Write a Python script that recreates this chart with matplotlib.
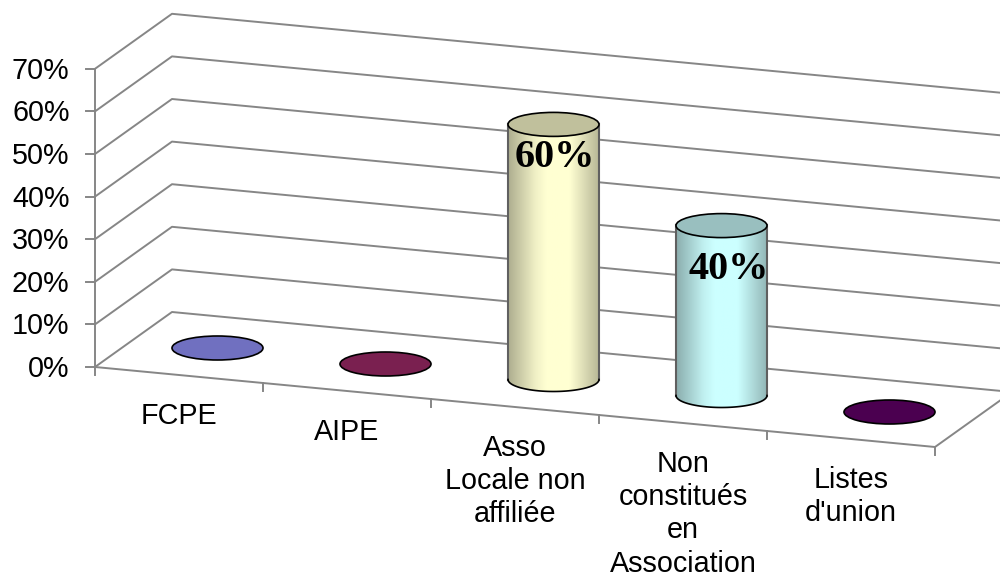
import numpy as np
import matplotlib
matplotlib.use('Agg')
import matplotlib.pyplot as plt
from matplotlib.patches import Ellipse, PathPatch
from matplotlib.path import Path

# Values
categories = ['FCPE', 'AIPE', 'Asso\nLocale non\naffiliée', 'Non\nconstitués\nen\nAssociation', 'Listes\nd\'union']
values = [0, 0, 60, 40, 0]
value_labels = ['', '', '60%', '40%', '']
y_ticks = [0, 10, 20, 30, 40, 50, 60, 70]

body_colors = ['#7070c0', '#7a2050', '#ffffd2', '#ccffff', '#4b0050']
top_colors = ['#7070c0', '#7a2050', '#c0c09c', '#99bfbf', '#4b0050']

plt.rcParams['font.family'] = ['Liberation Sans', 'DejaVu Sans']

fig = plt.figure(figsize=(10, 5.76), dpi=100)
ax = fig.add_axes([0, 0, 1, 1])
ax.axis('off')

# Oblique projection of the 3D box into pixel space
origin = np.array([95.0, 367.0])
width_vec = np.array([840.0, 80.0])
depth_vec = np.array([77.0, -55.0])
px_per_unit = 4.26
n = len(categories)


def project(u, d, v):
    p = origin + u * width_vec + d * depth_vec
    return p[0], p[1] - v * px_per_unit


grid_col = '#868686'

# walls and floor
for v in y_ticks:
    pts = [project(0, 0, v), project(0, 1, v), project(1, 1, v)]
    ax.plot(*zip(*pts), color=grid_col, lw=1.4, zorder=1)
pts = [project(0, 0, 0), project(1, 0, 0), project(1, 1, 0)]
ax.plot(*zip(*pts), color=grid_col, lw=1.4, zorder=1)

# value axis and ticks
x0, y0 = project(0, 0, 0)
ax.plot([x0, x0], [project(0, 0, max(y_ticks))[1], y0 + 8], color=grid_col, lw=1.4, zorder=1)
for v in y_ticks:
    x, y = project(0, 0, v)
    ax.plot([x - 9, x], [y, y], color=grid_col, lw=1.4, zorder=1)
    ax.text(x - 25.5, y + 2, f'{v}%', fontsize=20.7, ha='right', va='center', color='black')

# category ticks
for i in range(1, n + 1):
    x, y = project(i / n, 0, 0)
    ax.plot([x, x], [y, y + 8], color=grid_col, lw=1.4, zorder=1)


def draw_cylinder(cx, cy, h, body, top, zorder):
    rx, ry = 45.5, 12
    if h > 0:
        # shaded body, clipped to rectangle + lower half of the base ellipse
        theta = np.linspace(np.pi, 0, 60)
        bx = cx + rx * np.cos(theta)
        by = cy + ry * np.sin(theta)
        verts = [(cx - rx, cy - h)] + list(zip(bx, by)) + [(cx + rx, cy - h), (cx - rx, cy - h)]
        clip = PathPatch(Path(verts), facecolor='none', edgecolor='none', transform=ax.transData)
        ax.add_patch(clip)
        t = np.linspace(0, 1, 200)
        shade = np.interp(t, [0, 0.3, 0.42, 0.68, 1], [0.68, 0.94, 1, 1, 0.72])
        rgb = np.array(matplotlib.colors.to_rgb(body))
        img = (shade[:, None] * rgb)[None, :, :]
        im = ax.imshow(img, extent=[cx - rx, cx + rx, cy + ry, cy - h], aspect='auto', zorder=zorder)
        im.set_clip_path(clip)
        ax.plot([cx - rx, cx - rx], [cy - h, cy], color='#606060', lw=1.5, zorder=zorder + 1)
        ax.plot([cx + rx, cx + rx], [cy - h, cy], color='#606060', lw=1.5, zorder=zorder + 1)
        ax.plot(bx, by, color='black', lw=1.2, zorder=zorder + 1)
    ax.add_patch(Ellipse((cx, cy + 0.5 - h), 2 * rx, 2 * ry, facecolor=top, edgecolor='black', lw=1.2,
                         zorder=zorder + 2))


# offsets of the value labels from the top of their column
label_offsets = {2: (1, 34), 3: (7, 44)}

for i, val in enumerate(values):
    u = (i + 0.5) / n
    cx, cy = project(u, 0.5, 0)
    h = val * px_per_unit
    draw_cylinder(cx, cy, h, body_colors[i], top_colors[i], 3 + i)
    if value_labels[i]:
        dx, dy = label_offsets[i]
        ax.text(cx + dx, cy - h + dy, value_labels[i], fontsize=29, fontweight='bold',
                family=['Liberation Serif', 'DejaVu Serif'], ha='center', va='center', color='black',
                zorder=20)
    fx, fy = project(u, 0, 0)
    ax.text(fx, fy + 26.5, categories[i], fontsize=20.7, ha='center', va='top', linespacing=1.25,
            color='black', zorder=20)

ax.set_xlim(0, 1000)
ax.set_ylim(576, 0)

fig.savefig('out.png', dpi=100, facecolor='white')
